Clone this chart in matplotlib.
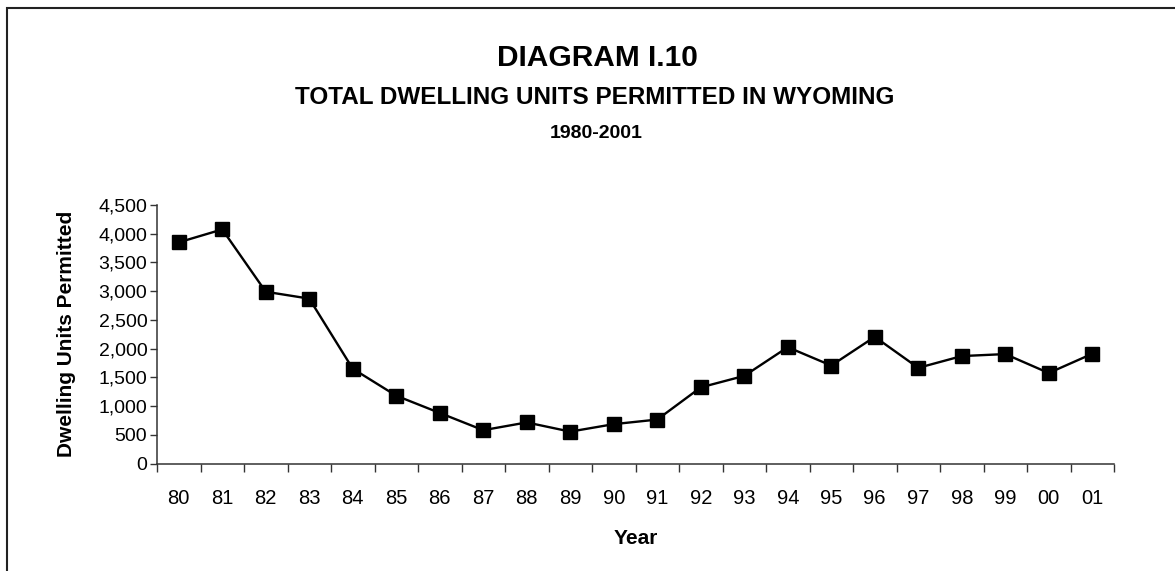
import matplotlib
matplotlib.use("Agg")
import matplotlib.pyplot as plt
from matplotlib.ticker import FuncFormatter, FixedLocator
from matplotlib.patches import Rectangle

years = ["80", "81", "82", "83", "84", "85", "86", "87", "88", "89", "90",
         "91", "92", "93", "94", "95", "96", "97", "98", "99", "00", "01"]
units = [3850, 4075, 2990, 2870, 1650, 1180, 880, 580, 715, 555, 685,
         765, 1325, 1525, 2025, 1705, 2205, 1665, 1870, 1905, 1575, 1910]
y_ticks = [0, 500, 1000, 1500, 2000, 2500, 3000, 3500, 4000, 4500]

title = "DIAGRAM I.10"
subtitle = "TOTAL DWELLING UNITS PERMITTED IN WYOMING"
period = "1980-2001"
x_label = "Year"
y_label = "Dwelling Units Permitted"

plt.rcParams['font.family'] = ['Liberation Sans', 'DejaVu Sans']

W, H = 1175, 571
fig = plt.figure(figsize=(W / 100, H / 100), dpi=100)
fig.patch.set_facecolor("white")

# outer frame (left and top edges visible)
fig.patches.append(Rectangle((6.5 / W, -0.2), 1.5, 1.2 - 8 / H,
                             transform=fig.transFigure, fill=False,
                             edgecolor="#222222", linewidth=1.5))

ax = fig.add_axes([157 / W, 1 - 463.5 / H, (1114 - 157) / W, (463.5 - 205) / H])

x = list(range(len(years)))
ax.plot(x, units, color="black", linewidth=1.7, marker="s",
        markersize=10.5, markerfacecolor="black", markeredgecolor="black",
        clip_on=False, zorder=3)

ax.set_xlim(-0.5, len(years) - 0.5)
ax.set_ylim(0, 4500)

ax.xaxis.set_major_locator(FixedLocator([i - 0.5 for i in range(len(years) + 1)]))
ax.xaxis.set_major_formatter(FuncFormatter(lambda v, p: ""))
ax.set_xticks(x, minor=True)
ax.set_xticklabels(years, minor=True)
ax.tick_params(axis="x", which="major", direction="out", length=6,
               width=1, color="#333333")
ax.tick_params(axis="x", which="minor", length=0, pad=18, labelsize=14.5)

ax.set_yticks(y_ticks)
ax.yaxis.set_major_formatter(FuncFormatter(lambda v, p: f"{int(v):,}"))
ax.tick_params(axis="y", direction="out", length=5, width=1,
               color="#333333", labelsize=14, pad=2)

for s in ["top", "right"]:
    ax.spines[s].set_visible(False)
for s in ["left", "bottom"]:
    ax.spines[s].set_color("#333333")
    ax.spines[s].set_linewidth(1.1)

fig.text(597 / W, 1 - 58 / H, title, ha="center", va="center",
         fontsize=21.5, fontweight="bold")
fig.text(595 / W, 1 - 98 / H, subtitle, ha="center", va="center",
         fontsize=17.5, fontweight="bold")
fig.text(596 / W, 1 - 133 / H, period, ha="center", va="center",
         fontsize=14, fontweight="bold")

fig.text(67 / W, 1 - 334 / H, y_label, ha="center", va="center",
         rotation=90, fontsize=15, fontweight="bold")
fig.text(636 / W, 1 - 538 / H, x_label, ha="center", va="center",
         fontsize=15, fontweight="bold")

fig.savefig("out.png", dpi=100, facecolor="white")
